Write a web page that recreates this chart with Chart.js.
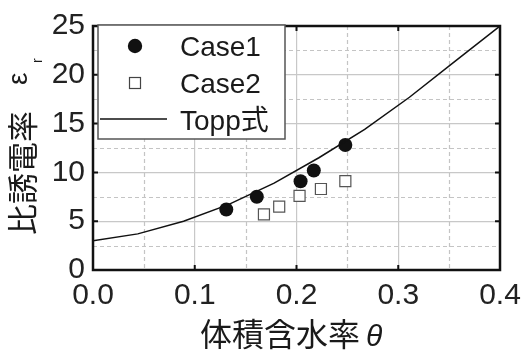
<!DOCTYPE html>
<html><head><meta charset="utf-8">
<script src="https://cdn.jsdelivr.net/npm/chart.js@4"></script>
<style>html,body{margin:0;padding:0;background:#fff}#wrap{width:531px;height:355px}</style>
</head><body><div id="wrap"><canvas id="c" width="531" height="355"></canvas></div>
<script>
// ---- data ----
const case1X = [0.131, 0.161, 0.204, 0.217, 0.248];
const case1Y = [6.2, 7.5, 9.1, 10.2, 12.8];
const case2X = [0.168, 0.183, 0.203, 0.224, 0.248];
const case2Y = [5.7, 6.5, 7.6, 8.3, 9.1];
const toppX = [0, 0.044, 0.089, 0.133, 0.178, 0.222, 0.267, 0.311, 0.356, 0.4];
const toppY = [3.0, 3.7, 5.0, 6.7, 8.9, 11.5, 14.4, 17.7, 21.4, 25.0];
const xTicks = [0.0, 0.1, 0.2, 0.3, 0.4];
const yTicks = [0, 5, 10, 15, 20, 25];
const xMinor = [0.05, 0.15, 0.25, 0.35];
const yMinor = [2.5, 7.5, 12.5, 17.5, 22.5];
const seriesLabels = ['Case1', 'Case2', 'Topp式'];
const xTitle = '体積含水率';
const xTitleSym = 'θ';
const yTitle = '比誘電率';
const yTitleSym = 'ε';
const yTitleSub = 'r';

const pts = (xs, ys) => xs.map((x, i) => ({x: x, y: ys[i]}));
const LATIN = "'Liberation Sans', Arial, sans-serif";
const CJK = "'Noto Sans CJK JP', 'Liberation Sans', sans-serif";
const MIXED = "'Liberation Sans', 'Noto Sans CJK JP', sans-serif";

const decor = {
  id: 'decor',
  beforeDatasetsDraw(chart) {
    const {ctx, chartArea: a, scales: {x, y}} = chart;
    ctx.save();
    ctx.strokeStyle = '#c4c4c4';
    ctx.lineWidth = 1.2;
    ctx.setLineDash([4, 3]);
    xMinor.forEach(v => { const px = Math.round(x.getPixelForValue(v)) + 0.5; ctx.beginPath(); ctx.moveTo(px, a.top); ctx.lineTo(px, a.bottom); ctx.stroke(); });
    yMinor.forEach(v => { const py = Math.round(y.getPixelForValue(v)) + 0.5; ctx.beginPath(); ctx.moveTo(a.left, py); ctx.lineTo(a.right, py); ctx.stroke(); });
    ctx.restore();
  },
  afterDraw(chart) {
    const {ctx, chartArea: a, scales: {x, y}} = chart;
    ctx.save();
    // inward ticks
    ctx.strokeStyle = '#111';
    ctx.lineWidth = 2;
    const L = 5;
    xTicks.forEach(v => { const px = x.getPixelForValue(v); ctx.beginPath(); ctx.moveTo(px, a.bottom); ctx.lineTo(px, a.bottom - L); ctx.moveTo(px, a.top); ctx.lineTo(px, a.top + L); ctx.stroke(); });
    yTicks.forEach(v => { const py = y.getPixelForValue(v); ctx.beginPath(); ctx.moveTo(a.left, py); ctx.lineTo(a.left + L, py); ctx.moveTo(a.right, py); ctx.lineTo(a.right - L, py); ctx.stroke(); });
    // frame
    ctx.lineWidth = 2.5;
    ctx.strokeRect(a.left, a.top, a.right - a.left, a.bottom - a.top);

    // legend
    const lx = 98, ly = 25, lw = 187, lh = 114;
    ctx.fillStyle = '#fff';
    ctx.fillRect(lx, ly, lw, lh);
    ctx.strokeStyle = '#555';
    ctx.lineWidth = 1.5;
    ctx.strokeRect(lx, ly, lw, lh);
    ctx.fillStyle = '#111';
    ctx.beginPath(); ctx.arc(135, 46, 7.2, 0, Math.PI * 2); ctx.fill();
    ctx.strokeStyle = '#444'; ctx.lineWidth = 1.2;
    ctx.strokeRect(129.5, 77.5, 11, 11);
    ctx.strokeStyle = '#111'; ctx.lineWidth = 1.5;
    ctx.beginPath(); ctx.moveTo(100, 119); ctx.lineTo(167, 119); ctx.stroke();
    ctx.fillStyle = '#1a1a1a';
    ctx.textBaseline = 'alphabetic';
    ctx.textAlign = 'left';
    ctx.font = '28px ' + LATIN;
    ctx.fillText(seriesLabels[0], 180, 56);
    ctx.fillText(seriesLabels[1], 180, 93);
    ctx.font = '28px ' + MIXED;
    ctx.fillText(seriesLabels[2], 180, 130);

    // x title
    ctx.font = '32px ' + CJK;
    ctx.fillText(xTitle, 200, 346);
    ctx.font = 'italic 30px ' + LATIN;
    ctx.fillText(xTitleSym, 366, 346);

    // y title (rotated)
    ctx.translate(34, 235);
    ctx.rotate(-Math.PI / 2);
    ctx.font = '31px ' + CJK;
    ctx.fillText(yTitle, 0, 0);
    ctx.font = '28px ' + LATIN;
    ctx.fillText(yTitleSym, 150, -7);
    ctx.font = '14px ' + LATIN;
    ctx.fillText(yTitleSub, 172, 8);
    ctx.restore();
  }
};

new Chart(document.getElementById('c').getContext('2d'), {
  type: 'scatter',
  data: {
    datasets: [
      {label: seriesLabels[0], data: pts(case1X, case1Y), pointStyle: 'circle', pointRadius: 7, backgroundColor: '#111', borderColor: '#111', borderWidth: 0, order: 2},
      {label: seriesLabels[1], data: pts(case2X, case2Y), pointStyle: 'rect', pointRadius: 7.8, backgroundColor: '#fff', borderColor: '#555', borderWidth: 1.2, order: 2},
      {label: seriesLabels[2], data: pts(toppX, toppY), showLine: true, pointRadius: 0, borderColor: '#111', borderWidth: 1.5, tension: 0, order: 1}
    ]
  },
  options: {
    responsive: false,
    animation: false,
    layout: {padding: {left: 0, right: 31, top: 20, bottom: 0}},
    plugins: {legend: {display: false}, tooltip: {enabled: false}},
    scales: {
      x: {
        type: 'linear', min: 0, max: 0.4,
        ticks: {stepSize: 0.1, padding: 8, color: '#222', font: {size: 30, family: LATIN}, callback: v => Number(v).toFixed(1), maxRotation: 0},
        grid: {color: '#c8c8c8', lineWidth: 1.2, drawTicks: false},
        border: {display: false},
        afterFit: s => { s.height = 85; }
      },
      y: {
        type: 'linear', min: 0, max: 25,
        ticks: {stepSize: 5, padding: 8, color: '#222', font: {size: 30, family: LATIN}},
        grid: {color: '#c8c8c8', lineWidth: 1.2, drawTicks: false},
        border: {display: false},
        afterFit: s => { s.width = 93; }
      }
    }
  },
  plugins: [decor]
});
</script>
</body></html>
